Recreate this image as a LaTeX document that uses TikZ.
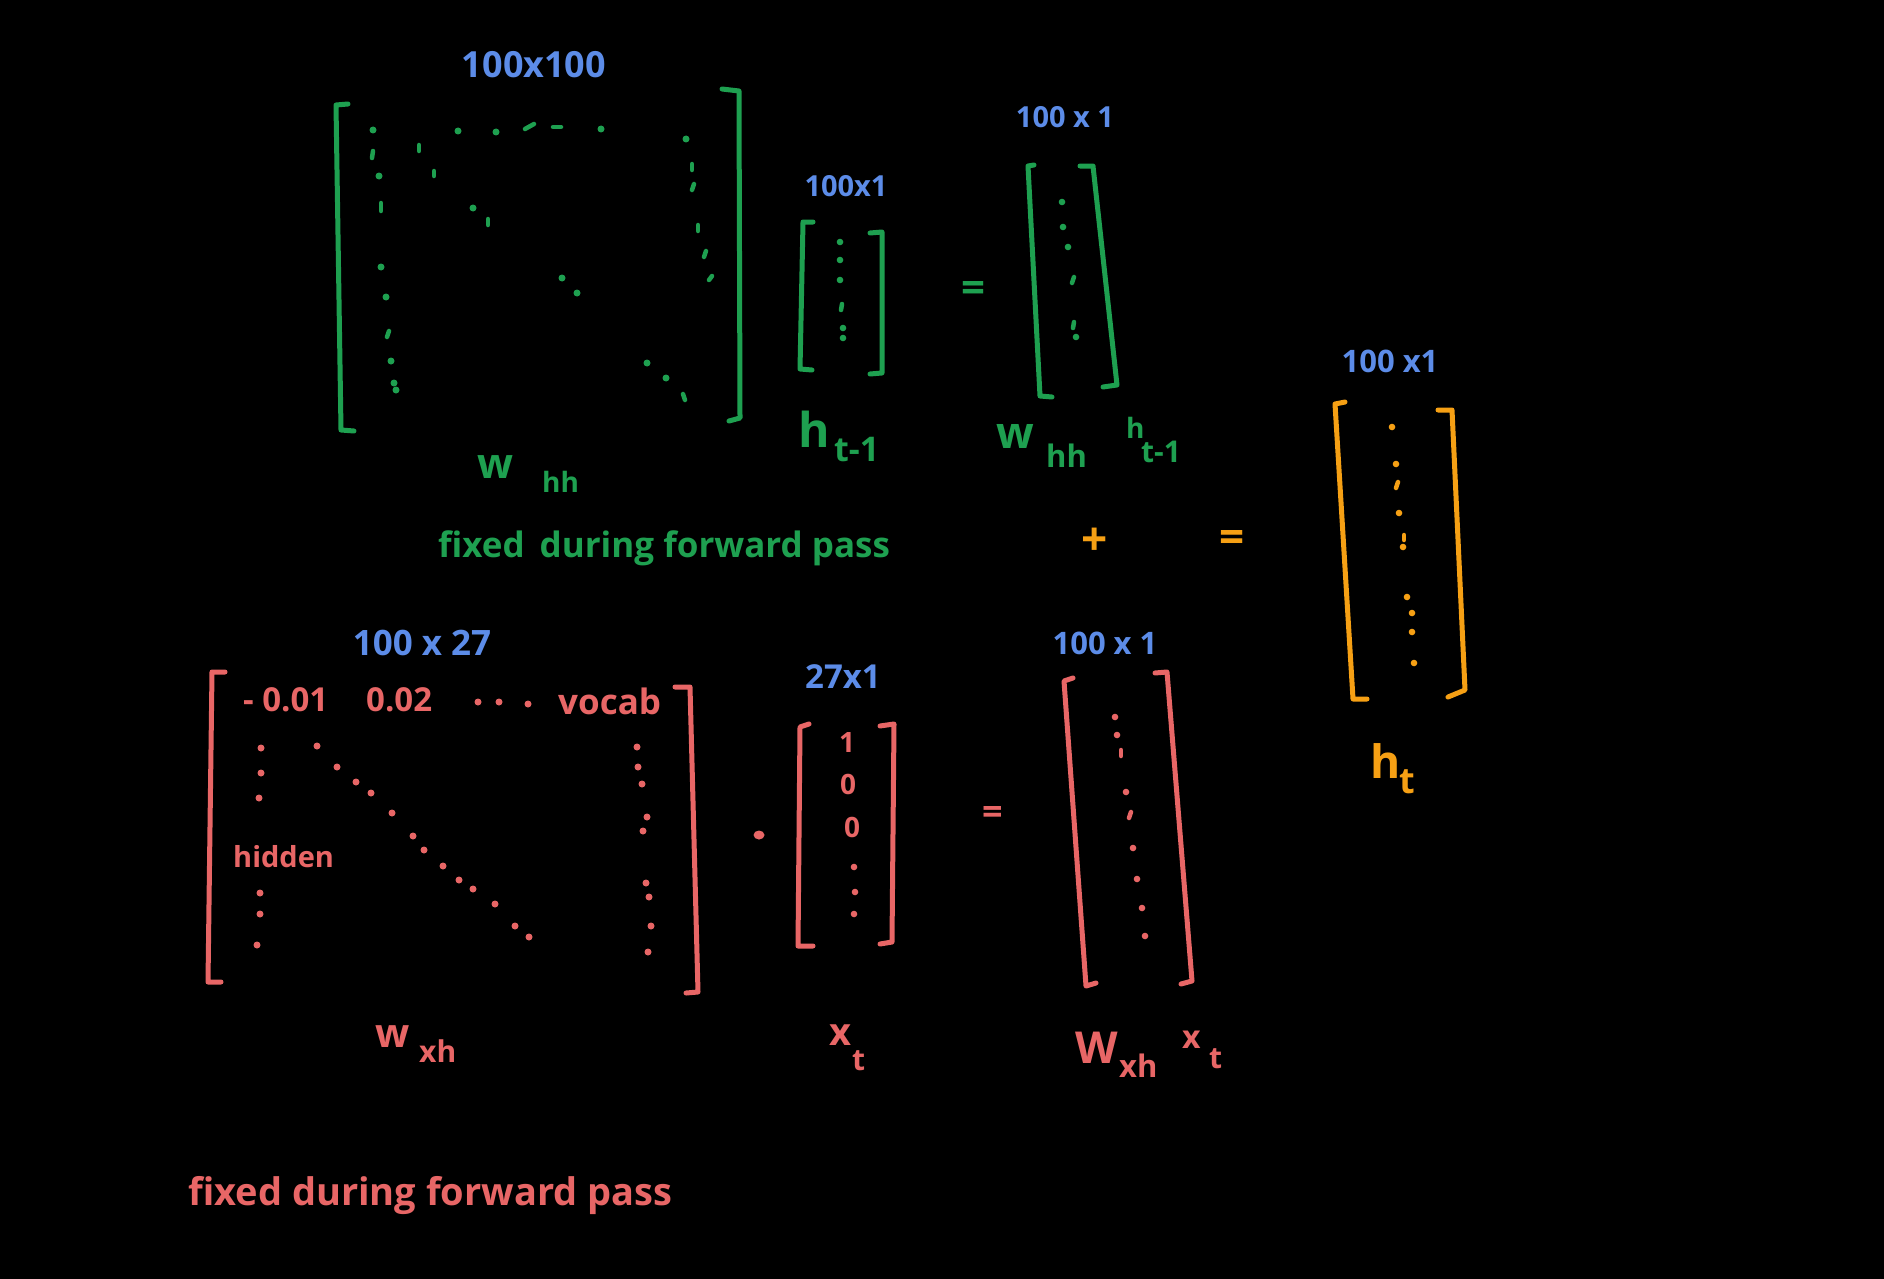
\documentclass[tikz,border=0pt]{standalone}
\usepackage{fontspec}
\setmainfont{Open Sans}
\definecolor{hg}{RGB}{30,160,80}
\definecolor{hb}{RGB}{92,140,232}
\definecolor{hr}{RGB}{232,102,102}
\definecolor{ho}{RGB}{246,160,20}
\newcommand\fsz[1]{\fontsize{#1}{#1}\selectfont\bfseries}
\tikzset{
  brk/.style={line width=5pt, line cap=round, line join=round},
  dsh/.style={line width=4.5pt, line cap=round},
  lbl/.style={inner sep=0pt, anchor=base west},
  dim/.style={inner sep=0pt, text=hb},
}
\begin{document}
\begin{tikzpicture}[x=1pt,y=-1pt]
\useasboundingbox[fill=black] (0,0) rectangle (1884,1279);

% ---------------- green W_hh matrix ----------------
\node[dim,font=\fsz{36}] (dwhh) at (534,65) {100x100};
\draw[brk,hg] (348,104) -- (336,105) -- (341,430) -- (354,431);
\draw[brk,hg] (722,89) -- (739,91) -- (740,418) -- (729,421);
\foreach \p in {(373,130),(379,176),(381,267),(386,297),(391,361),(394,383),(396,390),
  (458,131),(496,132),(601,129),(473,208),(686,139),(562,278),(577,293),(647,363),(666,378)}
  \fill[hg] \p circle (3.5);
\foreach \a/\b in {{373,151}/{372,158},{381,203}/{381,211},{419,145}/{419,151},{434,171}/{434,176},
  {488,219}/{488,225},{525,129}/{534,124},{553,127}/{561,127},{692,164}/{692,170},{694,184}/{692,190},
  {698,225}/{698,231},{706,251}/{704,257},{712,276}/{709,280},{683,394}/{685,400},{389,331}/{387,337}}
  \draw[dsh,hg] (\a) -- (\b);
\node[lbl,text=hg,font=\fsz{42}] (lw1) at (477,478) {w};
\node[lbl,text=hg,font=\fsz{28}] (lw1s) at (542,492) {hh};
\node[lbl,text=hg,font=\fsz{35}] (fixg) at (438,557) {fixed \,during forward pass};

% ---------------- green h_{t-1} ----------------
\node[dim,font=\fsz{29}] (dht) at (846,186) {100x1};
\draw[brk,hg] (813,222) -- (803,222) -- (800,369) -- (812,370);
\draw[brk,hg] (870,233) -- (882,232) -- (882,373) -- (870,374);
\foreach \p in {(840,242),(840,260),(840,280),(843,328),(843,338)}
  \fill[hg] \p circle (3.3);
\draw[dsh,hg] (842,304) -- (841,310);
\node[lbl,text=hg,font=\fsz{48}] (lh1) at (798,447) {h};
\node[lbl,text=hg,font=\fsz{34}] (lh1s) at (834,461) {t-1};

\node[inner sep=0pt,text=hg,font=\fsz{42}] (eqg) at (973,292) {=};

% ---------------- green W_hh h_{t-1} ----------------
\node[dim,font=\fsz{29}] (dwh) at (1065,117) {100 x 1};
\draw[brk,hg] (1034,165) -- (1028,166) -- (1040,396) -- (1052,397);
\draw[brk,hg] (1080,166) -- (1093,166) -- (1117,385) -- (1103,387);
\foreach \p in {(1062,202),(1063,227),(1068,247),(1076,337)}
  \fill[hg] \p circle (3.3);
\draw[dsh,hg] (1074,277) -- (1072,283);
\draw[dsh,hg] (1074,322) -- (1073,328);
\node[lbl,text=hg,font=\fsz{44}] (lw2) at (996,448) {w};
\node[lbl,text=hg,font=\fsz{31}] (lw2s) at (1046,467) {hh};
\node[lbl,text=hg,font=\fsz{28}] (lh2) at (1126,438) {h};
\node[lbl,text=hg,font=\fsz{30}] (lh2s) at (1141,462) {t-1};

% ---------------- orange ----------------
\node[inner sep=0pt,text=ho,font=\fsz{46}] (plus) at (1095,542) {+};
\node[inner sep=0pt,text=ho,font=\fsz{44}] (eqo) at (1232,541) {=};
\node[dim,font=\fsz{31}] (dho) at (1390,361) {100 x1};
\draw[brk,ho] (1345,402) -- (1335,404) -- (1353,699) -- (1367,699);
\draw[brk,ho] (1438,410) -- (1452,410) -- (1465,690) -- (1448,697);
\foreach \p in {(1392,427),(1396,464),(1399,513),(1403,547),(1407,597),(1412,613),(1412,632),(1414,663)}
  \fill[ho] \p circle (3.3);
\draw[dsh,ho] (1398,482) -- (1396,488);
\draw[dsh,ho] (1404,535) -- (1404,540);
\node[lbl,text=ho,font=\fsz{46}] (lht) at (1370,778) {h};
\node[lbl,text=ho,font=\fsz{36}] (lhts) at (1399,793) {t};

% ---------------- red W_xh matrix ----------------
\node[dim,font=\fsz{35}] (dwx) at (422,643) {100 x 27};
\draw[brk,hr] (225,672) -- (212,672) -- (208,982) -- (221,982);
\draw[brk,hr] (675,687) -- (690,687) -- (698,992) -- (686,993);
\node[lbl,text=hr,font=\fsz{33}] (m1) at (243,711) {- 0.01};
\node[lbl,text=hr,font=\fsz{33}] (m2) at (366,711) {0.02};
\node[lbl,text=hr,font=\fsz{35}] (m3) at (558,714) {vocab};
\node[lbl,text=hr,font=\fsz{29}] (m4) at (233,867) {hidden};
\foreach \p in {(478,702),(499,702),(528,704),
  (261,748),(261,773),(259,798),(260,893),(260,914),(257,945),
  (317,746),(337,767),(356,782),(371,793),(392,813),(413,836),(424,850),(443,866),
  (459,880),(473,889),(495,904),(515,926),(529,937),
  (637,747),(638,767),(642,784),(647,817),(643,831),(646,883),(649,897),(651,926),(648,952)}
  \fill[hr] \p circle (3.5);
\node[lbl,text=hr,font=\fsz{40}] (lw3) at (375,1047) {w};
\node[lbl,text=hr,font=\fsz{30}] (lw3s) at (419,1062) {xh};
\node[lbl,text=hr,font=\fsz{38}] (fixr) at (188,1205) {fixed during forward pass};

% ---------------- red x_t ----------------
\fill[hr] (759,835) ellipse (5.5 and 4.5);
\node[dim,font=\fsz{33}] (dxt) at (843,677) {27x1};
\draw[brk,hr] (809,724) -- (800,727) -- (798,946) -- (813,946);
\draw[brk,hr] (880,726) -- (894,724) -- (892,942) -- (880,944);
\node[inner sep=0pt,text=hr,font=\fsz{28}] (v1) at (847,742) {1};
\node[inner sep=0pt,text=hr,font=\fsz{28}] (v2) at (848,784) {0};
\node[inner sep=0pt,text=hr,font=\fsz{28}] (v3) at (852,827) {0};
\foreach \p in {(854,867),(855,892),(854,914)}
  \fill[hr] \p circle (3.3);
\node[lbl,text=hr,font=\fsz{38}] (lx) at (829,1045) {x};
\node[lbl,text=hr,font=\fsz{30}] (lxs) at (852,1070) {t};

\node[inner sep=0pt,text=hr,font=\fsz{36}] (eqr) at (993,815) {=};

% ---------------- red W_xh x_t ----------------
\node[dim,font=\fsz{31}] (dwxx) at (1105,643) {100 x 1};
\draw[brk,hr] (1073,678) -- (1064,681) -- (1086,986) -- (1096,983);
\draw[brk,hr] (1155,673) -- (1167,672) -- (1192,981) -- (1181,984);
\foreach \p in {(1115,717),(1117,735),(1126,792),(1133,848),(1137,879),(1142,908),(1145,936)}
  \fill[hr] \p circle (3.3);
\draw[dsh,hr] (1121,750) -- (1121,756);
\draw[dsh,hr] (1131,812) -- (1129,818);
\node[lbl,text=hr,font=\fsz{44}] (lw4) at (1075,1063) {W};
\node[lbl,text=hr,font=\fsz{31}] (lw4s) at (1119,1077) {xh};
\node[lbl,text=hr,font=\fsz{32}] (lx4) at (1182,1048) {x};
\node[lbl,text=hr,font=\fsz{30}] (lx4s) at (1209,1068) {t};
\end{tikzpicture}
\end{document}
